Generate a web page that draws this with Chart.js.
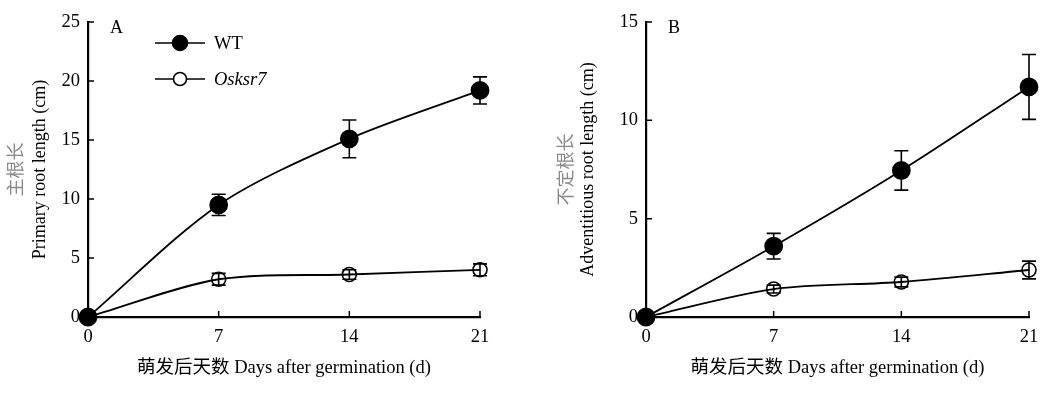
<!DOCTYPE html>
<html>
<head>
<meta charset="utf-8">
<script src="https://cdn.jsdelivr.net/npm/chart.js@4.4.1/dist/chart.umd.min.js"></script>
<style>
    body{ margin:0; background:#fff; }
    #wrap{ position:relative; width:1062px; height:398px; }
    canvas{ position:absolute; top:0; }
</style>
</head>
<body>
<div id="wrap">
    <canvas id="chartA" width="531" height="398" style="left:0"></canvas>
    <canvas id="chartB" width="531" height="398" style="left:531px"></canvas>
</div>
<script>

// ------------------------------
// DATA
// ------------------------------

const days = [0, 7, 14, 21]

const primaryWT = [0, 9.5, 15.1, 19.2]
const primaryWTErr = [0, 0.9, 1.6, 1.15]
const primaryMut = [0, 3.2, 3.6, 4.0]
const primaryMutErr = [0, 0.5, 0.4, 0.5]

const advWT = [0, 3.6, 7.45, 11.7]
const advWTErr = [0, 0.65, 1.0, 1.65]
const advMut = [0, 1.42, 1.78, 2.39]
const advMutErr = [0, 0.2, 0.25, 0.45]

const seriesNames = ["WT", "Osksr7"]
const xTitle = "萌发后天数 Days after germination (d)"

const SERIF = "'Liberation Serif', 'Times New Roman', serif"
const CJK = "'Noto Sans CJK SC', sans-serif"

// ------------------------------
// PLUGINS
// ------------------------------

const errorBars = {
    id:"errorBars",
    beforeDatasetsDraw(chart){
        const ctx = chart.ctx
        const y = chart.scales.y
        ctx.save()
        ctx.strokeStyle = "#000"
        ctx.lineWidth = 1.6
        chart.data.datasets.forEach((ds, i) => {
            const meta = chart.getDatasetMeta(i)
            ds.errors.forEach((e, j) => {
                if(!e) return
                const px = meta.data[j].x
                const v = ds.data[j].y
                const top = y.getPixelForValue(v + e)
                const bot = y.getPixelForValue(v - e)
                ctx.beginPath()
                ctx.moveTo(px, top); ctx.lineTo(px, bot)
                ctx.moveTo(px-7, top); ctx.lineTo(px+7, top)
                ctx.moveTo(px-7, bot); ctx.lineTo(px+7, bot)
                ctx.stroke()
            })
        })
        ctx.restore()
    }
}

const decorations = {
    id:"decorations",
    afterDraw(chart){
        const ctx = chart.ctx
        const o = chart.options.plugins.decorations
        const a = chart.chartArea
        const xs = chart.scales.x
        const ys = chart.scales.y
        ctx.save()

        // inward tick marks
        ctx.strokeStyle = "#000"
        ctx.lineWidth = 1.5
        ctx.beginPath()
        xs.ticks.forEach(t => {
            const px = xs.getPixelForValue(t.value)
            ctx.moveTo(px, a.bottom); ctx.lineTo(px, a.bottom-6)
        })
        ys.ticks.forEach(t => {
            const py = ys.getPixelForValue(t.value)
            ctx.moveTo(a.left, py); ctx.lineTo(a.left+6, py)
        })
        ctx.stroke()

        // x title
        ctx.fillStyle = "#000"
        ctx.textAlign = "center"
        ctx.textBaseline = "middle"
        ctx.font = "18.5px " + SERIF + ", " + CJK
        ctx.fillText(xTitle, (a.left+a.right)/2, 368)

        // y titles
        const cy = (a.top+a.bottom)/2
        ctx.save()
        ctx.translate(o.cnX, cy)
        ctx.rotate(-Math.PI/2)
        ctx.fillStyle = "#8a8a8a"
        ctx.font = "18px " + CJK
        ctx.fillText(o.cnTitle, 0, 0)
        ctx.restore()

        ctx.save()
        ctx.translate(o.enX, cy)
        ctx.rotate(-Math.PI/2)
        ctx.font = "18px " + SERIF
        ctx.fillText(o.enTitle, 0, 0)
        ctx.restore()

        // panel letter
        ctx.textAlign = "left"
        ctx.font = "18px " + SERIF
        ctx.fillText(o.letter, a.left + 22, 28)

        // legend
        if(o.legend){
            const rows = [{y:43, fill:"#000"}, {y:79, fill:"#fff"}]
            rows.forEach((r, i) => {
                ctx.beginPath()
                ctx.lineWidth = 1.6
                ctx.moveTo(155, r.y); ctx.lineTo(205, r.y)
                ctx.stroke()
                ctx.beginPath()
                ctx.arc(180, r.y, i === 0 ? 7.5 : 6.5, 0, Math.PI*2)
                ctx.fillStyle = r.fill
                ctx.fill()
                ctx.stroke()
                ctx.fillStyle = "#000"
                ctx.font = (i === 1 ? "italic " : "") + "18.5px " + SERIF
                ctx.fillText(seriesNames[i], 214, r.y+1)
            })
        }
        ctx.restore()
    }
}

// ------------------------------
// BUILD CHART
// ------------------------------

function makeChart(id, wt, wtErr, mut, mutErr, yMax, pad, deco){

    const ctx = document.getElementById(id).getContext("2d")

    return new Chart(ctx, {
        type:"line",
        data:{
            datasets:[
                {
                    label:seriesNames[0],
                    data:wt,
                    errors:wtErr,
                    borderColor:"#000",
                    borderWidth:1.8,
                    pointRadius:8.5,
                    pointBackgroundColor:"#000",
                    pointBorderColor:"#000",
                    tension:0.3,
                    clip:false
                },
                {
                    label:seriesNames[1],
                    data:mut,
                    errors:mutErr,
                    borderColor:"#000",
                    borderWidth:1.8,
                    pointRadius:7,
                    pointBorderWidth:1.6,
                    pointBackgroundColor:"rgba(0,0,0,0)",
                    pointBorderColor:"#000",
                    tension:0.3,
                    clip:false
                }
            ].map(ds => ({...ds, data: ds.data.map((v, i) => ({x:days[i], y:v}))}))
        },
        options:{
            responsive:false,
            animation:false,
            devicePixelRatio:1,
            layout:{ padding:pad },
            plugins:{
                legend:{ display:false },
                tooltip:{ enabled:false },
                decorations:deco
            },
            scales:{
                x:{
                    type:"linear",
                    min:0, max:21,
                    afterFit(s){ s.height = 81 },
                    afterBuildTicks(s){ s.ticks = days.map(v => ({value:v})) },
                    grid:{ display:false, drawTicks:false },
                    border:{ color:"#000", width:2.2 },
                    ticks:{ color:"#000", padding:9, font:{ family:SERIF, size:18.5 } }
                },
                y:{
                    min:0, max:yMax,
                    afterFit(s){ s.width = pad.yw },
                    grid:{ display:false, drawTicks:false },
                    border:{ color:"#000", width:2.2 },
                    ticks:{ color:"#000", stepSize:5, padding:8, font:{ family:SERIF, size:18.5 } }
                }
            }
        },
        plugins:[errorBars, decorations]
    })
}

makeChart("chartA", primaryWT, primaryWTErr, primaryMut, primaryMutErr, 25,
    { left:0, right:51, top:22, bottom:0, yw:88 },
    { cnTitle:"主根长", enTitle:"Primary root length (cm)", cnX:15, enX:40, letter:"A", legend:true })

makeChart("chartB", advWT, advWTErr, advMut, advMutErr, 15,
    { left:0, right:33, top:22, bottom:0, yw:115 },
    { cnTitle:"不定根长", enTitle:"Adventitious root length (cm)", cnX:34, enX:57, letter:"B", legend:false })

</script>
</body>
</html>
